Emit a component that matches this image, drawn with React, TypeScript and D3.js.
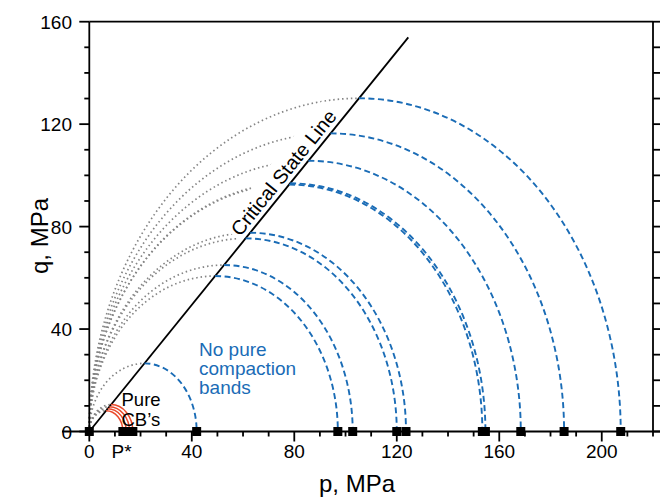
import React from "react";
import * as d3 from "d3";

// Critical state line slope and its drawn extent
const M = 1.236;
const CSL_END_P = 124.5;

// Yield caps: pressure where each cap meets the p axis, and its peak q on the CSL
const capEnds = [41.9, 97.0, 102.8, 120.0, 123.6, 153.4, 154.6, 168.4, 185.3, 207.4];
const capPeaks = [26.6, 60.7, 65.0, 75.4, 77.6, 96.4, 96.9, 105.7, 116.4, 130.1];

// Small caps that produce pure compaction bands
const cbEnds = [13.1, 14.4, 15.7, 17.0];
const cbPeaks = [8.1, 8.9, 9.7, 10.5];

// Measured points on the p axis
const pointsP = [0, ...cbEnds, ...capEnds];

const xMajor = [0, 40, 80, 120, 160, 200];
const yMajor = [0, 40, 80, 120, 160];
const minorTicks10X = d3.range(0, 221, 10);
const minorTicks10Y = d3.range(0, 161, 10);

const W = 660;
const H = 499;
const left = 89.3;
const right = 653;
const top = 21.7;
const bottom = 431.5;

const BLUE = "#1a6cb6";
const GRAY = "#858585";
const RED = "#ea4a2c";
const FONT = "'Liberation Sans', Arial, Helvetica, sans-serif";

export default function App() {
  const x = d3.scaleLinear().domain([0, 220]).range([left, right]);
  const y = d3.scaleLinear().domain([0, 160]).range([bottom, top]);

  // Elliptical cap centred on the p axis below its peak on the CSL
  const shearSide = (peakQ: number) => {
    const pt = peakQ / M;
    const rx = x(pt) - x(0);
    const ry = y(0) - y(peakQ);
    return `M${x(0)},${y(0)} A${rx},${ry} 0 0 1 ${x(pt)},${y(peakQ)}`;
  };
  const compactionSide = (endP: number, peakQ: number) => {
    const pt = peakQ / M;
    const rx = x(endP) - x(pt);
    const ry = y(0) - y(peakQ);
    return `M${x(pt)},${y(peakQ)} A${rx},${ry} 0 0 1 ${x(endP)},${y(0)}`;
  };

  const cslAngle =
    (Math.atan2(y(0) - y(M * CSL_END_P), x(CSL_END_P) - x(0)) * 180) / Math.PI;

  const sq = 9;

  return (
    <svg
      width={W}
      height={H}
      style={{ position: "absolute", left: 0, top: 0, background: "#fff" }}
      fontFamily={FONT}
    >
      <rect width={W} height={H} fill="#fff" />

      {/* shear side of each cap */}
      <g fill="none" stroke={GRAY} strokeWidth={1.7} strokeDasharray="1.5 2.9">
        {capPeaks.map((q, i) => (
          <path key={"s" + i} d={shearSide(q)} />
        ))}
        {cbPeaks.map((q, i) => (
          <path key={"sc" + i} d={shearSide(q)} />
        ))}
      </g>

      {/* critical state line label on a white plate */}
      <g transform={`translate(${x(0)},${y(0)}) rotate(${-cslAngle})`}>
        <rect x={243} y={-27} width={160} height={26} fill="#fff" />
        <text x={246} y={-5} fontSize={19.8} fill="#000">
          Critical State Line
        </text>
      </g>

      <line
        x1={x(0)}
        y1={y(0)}
        x2={x(CSL_END_P)}
        y2={y(M * CSL_END_P)}
        stroke="#000"
        strokeWidth={1.8}
      />

      {/* compaction side of each cap */}
      <g fill="none" stroke={BLUE} strokeWidth={1.9} strokeDasharray="6 3.5">
        {capEnds.map((p, i) => (
          <path key={"c" + i} d={compactionSide(p, capPeaks[i])} />
        ))}
      </g>
      <g fill="none" stroke={RED} strokeWidth={1.5}>
        {cbEnds.map((p, i) => (
          <path key={"r" + i} d={compactionSide(p, cbPeaks[i])} />
        ))}
      </g>

      {/* frame */}
      <g stroke="#000" strokeWidth={1.8} fill="none">
        <line x1={left} y1={top} x2={right} y2={top} />
        <line x1={left} y1={top} x2={left} y2={bottom} />
        <line x1={right} y1={top} x2={right} y2={bottom} />
        <line x1={62} y1={bottom} x2={W} y2={bottom} />
        {minorTicks10X.map((v) => (
          <line
            key={"xt" + v}
            x1={x(v)}
            x2={x(v)}
            y1={bottom}
            y2={bottom + (xMajor.includes(v) ? 10 : 5)}
          />
        ))}
        {minorTicks10Y.map((v) => (
          <line
            key={"yt" + v}
            x1={left}
            x2={left - (yMajor.includes(v) ? 10 : 5)}
            y1={y(v)}
            y2={y(v)}
          />
        ))}
        {minorTicks10Y.map((v) => (
          <line key={"rt" + v} x1={right} x2={right + 8} y1={y(v)} y2={y(v)} />
        ))}
      </g>

      {/* points on the p axis */}
      <g fill="#000">
        {pointsP.map((p, i) => (
          <rect key={"p" + i} x={x(p) - sq / 2} y={y(0) - sq / 2} width={sq} height={sq} />
        ))}
      </g>

      {/* tick labels */}
      <g fontSize={19} fill="#000">
        {xMajor.map((v) => (
          <text key={"xl" + v} x={x(v)} y={bottom + 26} textAnchor="middle">
            {v}
          </text>
        ))}
        {yMajor.map((v) => (
          <text key={"yl" + v} x={72} y={y(v) + 7} textAnchor="end">
            {v}
          </text>
        ))}
        <text x={x(12.6)} y={bottom + 26} textAnchor="middle">
          P*
        </text>
      </g>

      {/* axis titles */}
      <text x={357} y={492} fontSize={24} textAnchor="middle" fill="#000">
        p, MPa
      </text>
      <text
        transform={`translate(48,236) rotate(-90)`}
        fontSize={24}
        textAnchor="middle"
        fill="#000"
      >
        q, MPa
      </text>

      {/* annotations */}
      <g fontSize={19} fill={BLUE}>
        <text x={199} y={356}>No pure</text>
        <text x={199} y={375}>compaction</text>
        <text x={199} y={394}>bands</text>
      </g>
      <g fontSize={18.5} fill="#000">
        <text x={121.5} y={405.5}>Pure</text>
        <text x={121.5} y={425.5}>CB’s</text>
      </g>
    </svg>
  );
}
